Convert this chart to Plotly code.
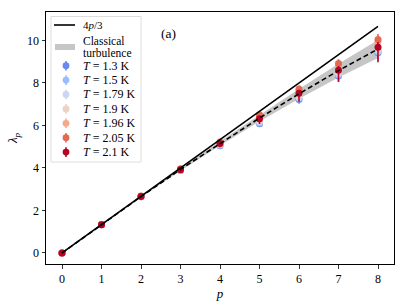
import plotly.graph_objects as go

# ---------------- data ----------------
p = [0, 1, 2, 3, 4, 5, 6, 7, 8]
four_p_3 = [4 * v / 3 for v in p]
classical = [0, 1.333, 2.65, 3.93, 5.16, 6.35, 7.49, 8.58, 9.60]
classical_lo = [0, 1.32, 2.62, 3.87, 5.06, 6.19, 7.26, 8.26, 9.18]
classical_hi = [0, 1.34, 2.68, 3.99, 5.26, 6.51, 7.72, 8.90, 10.02]

temps = ["1.3", "1.5", "1.79", "1.9", "1.96", "2.05", "2.1"]
colors = ["#6788ee", "#9abbff", "#c9d7f0", "#edd1c2", "#f7a889", "#e26952", "#b40426"]

lam_13 = [0, 1.33, 2.64, 3.88, 5.04, 6.08, 7.22, 8.33, 9.42]
lam_15 = [0, 1.33, 2.65, 3.89, 5.07, 6.12, 7.28, 8.38, 9.47]
lam_179 = [0, 1.33, 2.65, 3.90, 5.10, 6.17, 7.33, 8.44, 9.52]
lam_19 = [0, 1.33, 2.66, 3.91, 5.13, 6.22, 7.40, 8.52, 9.60]
lam_196 = [0, 1.34, 2.67, 3.94, 5.19, 6.42, 7.64, 8.80, 9.95]
lam_205 = [0, 1.34, 2.68, 3.96, 5.22, 6.50, 7.72, 8.92, 10.05]
lam_21 = [0, 1.33, 2.66, 3.92, 5.15, 6.32, 7.52, 8.60, 9.68]

err_small = [0, 0.01, 0.02, 0.04, 0.06, 0.10, 0.14, 0.18, 0.22]
err_13_minus = [0, 0.02, 0.04, 0.07, 0.10, 0.15, 0.20, 0.27, 0.35]
err_205_plus = [0, 0.01, 0.02, 0.04, 0.07, 0.10, 0.15, 0.20, 0.25]
err_21_plus = [0, 0.01, 0.02, 0.04, 0.06, 0.10, 0.14, 0.20, 0.25]
err_21_minus = [0, 0.02, 0.05, 0.10, 0.17, 0.25, 0.40, 0.55, 0.70]

series = [
    (lam_13, err_small, err_13_minus),
    (lam_15, err_small, err_small),
    (lam_179, err_small, err_small),
    (lam_19, err_small, err_small),
    (lam_196, err_small, err_small),
    (lam_205, err_205_plus, err_small),
    (lam_21, err_21_plus, err_21_minus),
]

# ---------------- figure ----------------
W, H = 407, 305
ML, MR, MT, MB = 46, 13, 12, 41
FONT = "Liberation Serif"

fig = go.Figure()

# classical turbulence band
fig.add_trace(go.Scatter(x=p, y=classical_lo, mode="lines", line=dict(width=0, color="#c6c6c6"),
                         showlegend=False, hoverinfo="skip"))
fig.add_trace(go.Scatter(x=p, y=classical_hi, mode="lines", line=dict(width=0, color="#c6c6c6"),
                         fill="tonexty", fillcolor="#c6c6c6", showlegend=False, hoverinfo="skip"))

for (vals, eplus, eminus), col, t in zip(series, colors, temps):
    fig.add_trace(go.Scatter(
        x=p, y=vals, mode="markers",
        marker=dict(size=7, color=col, line=dict(width=0)),
        error_y=dict(type="data", symmetric=False, array=eplus, arrayminus=eminus,
                     color=col, thickness=1.6, width=0),
        showlegend=False, name=f"T={t} K"))

fig.add_trace(go.Scatter(x=p, y=four_p_3, mode="lines", line=dict(color="black", width=1.6),
                         showlegend=False))
fig.add_trace(go.Scatter(x=p, y=classical, mode="lines",
                         line=dict(color="black", width=1.6, dash="5px,3px"), showlegend=False))

# ---------------- manual legend (pixel layout -> paper) ----------------
pw, ph = W - ML - MR, H - MT - MB


def px(x):
    return (x - ML) / pw


def py(y):
    return (H - MB - y) / ph


shapes = []
annots = []
shapes.append(dict(type="rect", xref="paper", yref="paper", x0=px(51), x1=px(141), y0=py(162), y1=py(16.5),
                   line=dict(color="#d5d5d5", width=0.8), fillcolor="rgba(255,255,255,0.85)", layer="above"))
shapes.append(dict(type="line", xref="paper", yref="paper", x0=px(54), x1=px(75), y0=py(25), y1=py(25),
                   line=dict(color="black", width=1.6), layer="above"))
annots.append(dict(x=px(82), y=py(25), xref="paper", yref="paper", text="4<i>p</i>/3", showarrow=False,
                   xanchor="left", yanchor="middle", borderpad=0,
                   font=dict(family=FONT, size=11, color="black")))
shapes.append(dict(type="rect", xref="paper", yref="paper", x0=px(55), x1=px(75), y0=py(50), y1=py(44),
                   line=dict(width=0), fillcolor="#c6c6c6", layer="above"))
annots.append(dict(x=px(82), y=py(40.5), xref="paper", yref="paper", text="Classical", showarrow=False,
                   xanchor="left", yanchor="middle", borderpad=0,
                   font=dict(family=FONT, size=11.5, color="black")))
annots.append(dict(x=px(82), y=py(53.5), xref="paper", yref="paper", text="turbulence", showarrow=False,
                   xanchor="left", yanchor="middle", borderpad=0,
                   font=dict(family=FONT, size=11.5, color="black")))

ys = [65.7, 80.1, 94.5, 108.9, 123.3, 137.7, 152.1]
r = 3.4
for yy, col, t in zip(ys, colors, temps):
    shapes.append(dict(type="line", xref="paper", yref="paper", x0=px(66), x1=px(66), y0=py(yy - 4.8),
                       y1=py(yy + 4.8), line=dict(color=col, width=1.6), layer="above"))
    shapes.append(dict(type="circle", xref="paper", yref="paper", x0=px(66 - r), x1=px(66 + r),
                       y0=py(yy + r), y1=py(yy - r), line=dict(width=0), fillcolor=col, layer="above"))
    annots.append(dict(x=px(82), y=py(yy), xref="paper", yref="paper", text=f"<i>T</i> = {t} K",
                       showarrow=False, xanchor="left", yanchor="middle", borderpad=0,
                       font=dict(family=FONT, size=12, color="black")))

annots.append(dict(x=px(168), y=py(33.5), xref="paper", yref="paper", text="(a)", showarrow=False,
                   xanchor="center", yanchor="middle", font=dict(family=FONT, size=13.5, color="black")))

axis_common = dict(showline=True, mirror=True, linecolor="black", linewidth=1, showgrid=False,
                   zeroline=False, ticks="outside", ticklen=3.5, tickwidth=0.8, tickcolor="black",
                   automargin=False, tickfont=dict(family=FONT, size=12, color="black"))

fig.update_layout(
    width=W, height=H,
    margin=dict(l=ML, r=MR, t=MT, b=MB, pad=0, autoexpand=False),
    plot_bgcolor="white", paper_bgcolor="white",
    showlegend=False,
    shapes=shapes, annotations=annots,
    xaxis=dict(range=[-0.405, 8.405], tickmode="array", tickvals=p, ticktext=[str(v) for v in p],
               title=dict(text="<i>p</i>", font=dict(family=FONT, size=13, color="black"), standoff=3),
               **axis_common),
    yaxis=dict(range=[-0.52, 11.34], tickmode="array", tickvals=[0, 2, 4, 6, 8, 10],
               ticktext=["0", "2", "4", "6", "8", "10"],
               title=dict(text="<i>λ</i><sub><i>p</i></sub>", font=dict(family=FONT, size=13, color="black"),
                          standoff=6),
               **axis_common),
)

fig.write_html("out.html", config={"staticPlot": True, "displayModeBar": False},
               post_script="document.body.style.margin='0';document.body.style.padding='0';")
